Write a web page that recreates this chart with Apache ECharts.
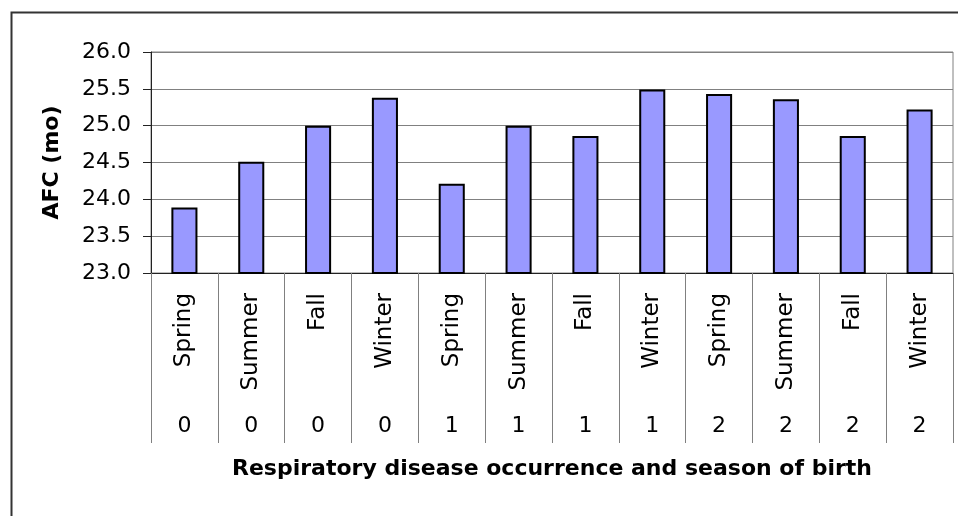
<!DOCTYPE html>
<html>
<head>
    <meta charset="utf-8">
</head>
<body style="margin:0;background:#fff;">

<div id="main" style="width: 958px;height:516px;"></div>
<script src="https://cdn.jsdelivr.net/npm/echarts@6/dist/echarts.min.js"></script>
<script type="text/javascript">
    // 季节 / 呼吸道疾病组别 / AFC 数值
    var seasons = ['Spring', 'Summer', 'Fall', 'Winter', 'Spring', 'Summer', 'Fall', 'Winter', 'Spring', 'Summer', 'Fall', 'Winter'];
    var groups = ['0', '0', '0', '0', '1', '1', '1', '1', '2', '2', '2', '2'];
    var afc = [23.89, 24.51, 25.0, 25.38, 24.21, 25.0, 24.86, 25.49, 25.43, 25.36, 24.86, 25.22];
    var yMin = 23.0, yMax = 26.0, yStep = 0.5;

    var font = 'DejaVu Sans';

    var option = {
        animation: false,
        backgroundColor: '#fff',
        graphic: [{
            type: 'rect',
            left: 9,
            top: 10,
            shape: {width: 1000, height: 600},
            style: {fill: null, stroke: '#333', lineWidth: 2}
        }],
        grid: {
            left: 151,
            right: 5,
            top: 52,
            bottom: 243,
            show: true,
            borderColor: '#808080',
            borderWidth: 1
        },
        xAxis: [
            {
                type: 'category',
                position: 'bottom',
                data: seasons,
                axisLine: {lineStyle: {color: '#222', width: 1}},
                axisTick: {show: true, interval: 0, length: 170, lineStyle: {color: '#808080'}},
                axisLabel: {interval: 0, rotate: 90, margin: 20, fontSize: 23, color: '#000', fontFamily: font},
                name: 'Respiratory disease occurrence and season of birth',
                nameLocation: 'middle',
                nameGap: 185,
                nameTextStyle: {fontSize: 22, fontWeight: 'bold', color: '#000', fontFamily: font}
            },
            {
                type: 'category',
                position: 'bottom',
                data: groups,
                axisLine: {show: false},
                axisTick: {show: false},
                axisLabel: {interval: 0, margin: 142, fontSize: 22, color: '#000', fontFamily: font}
            }
        ],
        yAxis: {
            type: 'value',
            min: yMin,
            max: yMax,
            interval: yStep,
            axisLine: {show: true, lineStyle: {color: '#222', width: 1}},
            axisTick: {show: true, length: 8, lineStyle: {color: '#222'}},
            splitLine: {lineStyle: {color: '#808080', width: 1}},
            axisLabel: {
                margin: 20,
                fontSize: 22,
                color: '#000',
                fontFamily: font,
                formatter: function (v) {
                    return v.toFixed(1);
                }
            },
            name: 'AFC (mo)',
            nameLocation: 'middle',
            nameRotate: 90,
            nameGap: 88,
            nameTextStyle: {fontSize: 22, fontWeight: 'bold', color: '#000', fontFamily: font}
        },
        series: [
            {
                type: 'bar',
                xAxisIndex: 0,
                data: afc,
                barCategoryGap: '61%',
                itemStyle: {color: '#9999FF', borderColor: '#000', borderWidth: 2}
            }
        ]
    };
    var myChart = echarts.init(document.getElementById('main'));
    myChart.setOption(option);
</script>
</body>
</html>
